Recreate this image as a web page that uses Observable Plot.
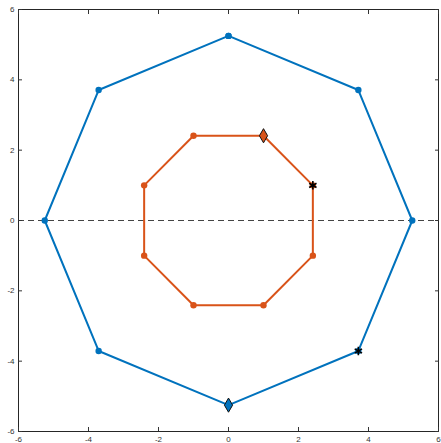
<!DOCTYPE html>
<html><head><meta charset="utf-8">
<script src="https://cdn.jsdelivr.net/npm/d3@7"></script>
<script src="https://cdn.jsdelivr.net/npm/@observablehq/plot@0.6"></script>
<style>body{margin:0;background:#fff}</style>
</head><body><div id="chart"></div>
<script>
const ticks = [-6, -4, -2, 0, 2, 4, 6];
const outerX = [0, 3.71, 5.25, 3.71, 0, -3.71, -5.25, -3.71, 0];
const outerY = [5.25, 3.71, 0, -3.71, -5.25, -3.71, 0, 3.71, 5.25];
const innerX = [1, 2.41, 2.41, 1, -1, -2.41, -2.41, -1, 1];
const innerY = [2.41, 1, -1, -2.41, -2.41, -1, 1, 2.41, 2.41];
const diamondX = [1, 0];
const diamondY = [2.41, -5.25];
const diamondColor = ["#D95319", "#0072BD"];
const starX = [2.41, 3.71];
const starY = [1, -3.71];

const outer = outerX.map((x, i) => ({x, y: outerY[i]}));
const inner = innerX.map((x, i) => ({x, y: innerY[i]}));
const diamonds = diamondX.map((x, i) => ({x, y: diamondY[i], c: diamondColor[i]}));
const stars = starX.map((x, i) => ({x, y: starY[i]}));

const chart = Plot.plot({
  width: 441, height: 443,
  marginLeft: 18, marginRight: 3, marginTop: 9, marginBottom: 12,
  style: {fontFamily: "Liberation Sans, Arial, sans-serif", fontSize: "8px", color: "#333", background: "#fff"},
  x: {domain: [-6, 6], label: null},
  y: {domain: [-6, 6], label: null},
  marks: [
    Plot.ruleY([0], {stroke: "#444", strokeWidth: 1, strokeDasharray: "6,4"}),
    Plot.line(outer, {x: "x", y: "y", stroke: "#0072BD", strokeWidth: 2}),
    Plot.dot(outer, {x: "x", y: "y", fill: "#0072BD", r: 3.2}),
    Plot.line(inner, {x: "x", y: "y", stroke: "#D95319", strokeWidth: 2}),
    Plot.dot(inner, {x: "x", y: "y", fill: "#D95319", r: 3.2}),
    Plot.dot(diamonds, {x: "x", y: "y", symbol: "diamond", fill: "c", r: 4.3, stroke: "#111", strokeWidth: 1}),
    Plot.dot(stars, {x: "x", y: "y", symbol: "asterisk", stroke: "#000", r: 4, strokeWidth: 1.6}),
    Plot.frame({stroke: "#262626", strokeWidth: 1}),
    Plot.axisX({ticks, anchor: "bottom", tickSize: -4, tickPadding: 9, tickFormat: d => d, label: null, fill: "#333"}),
    Plot.axisX({ticks, anchor: "top", tickSize: -4, tickFormat: () => "", label: null}),
    Plot.axisY({ticks, anchor: "left", tickSize: -4, tickPadding: 8, tickFormat: d => d, label: null, fill: "#333"}),
    Plot.axisY({ticks, anchor: "right", tickSize: -4, tickFormat: () => "", label: null})
  ]
});
document.getElementById("chart").append(chart);
</script></body></html>
